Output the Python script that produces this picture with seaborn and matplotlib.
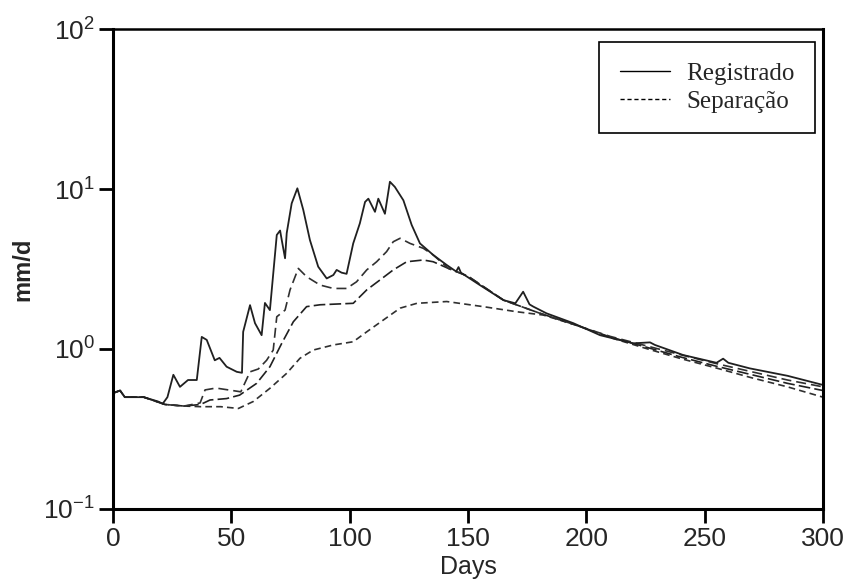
import matplotlib
matplotlib.use("Agg")
import matplotlib.pyplot as plt
import seaborn as sns
import pandas as pd
from matplotlib.ticker import FixedLocator, NullLocator
from matplotlib.lines import Line2D

# ---- data ----
reg_days = [0, 3, 5, 13, 19, 21, 23, 25.5, 28.3, 31.7, 35.4, 37.5, 39.6, 43, 45, 48, 52.3, 54.5,
            55, 57.9, 60, 62.8, 64.2, 66.3, 69.2, 70.6, 71.3, 72.7, 73.4, 75.5, 77.9, 80.4, 83.2,
            86.7, 90.3, 93.1, 94.5, 96.6, 98.7, 101.5, 104.3, 106.5, 107.9, 110.7, 112.1, 114.9,
            117, 119.1, 122.7, 126.2, 129.7, 135.3, 141, 145, 146, 147, 155, 165, 170, 173.3,
            176, 177.6, 183.2, 194.5, 205.8, 219.8, 226.9, 229, 240.9, 255, 257.8, 260, 269,
            285, 300]
reg_vals = [0.53, 0.55, 0.50, 0.50, 0.47, 0.455, 0.50, 0.69, 0.58, 0.64, 0.64, 1.19, 1.14, 0.85,
            0.88, 0.775, 0.72, 0.71, 1.28, 1.88, 1.45, 1.22, 1.94, 1.75, 5.16, 5.5, 4.8, 3.69,
            5.3, 8.13, 10.1, 7.4, 4.8, 3.27, 2.76, 2.9, 3.12, 3.0, 2.95, 4.57, 6.1, 8.3, 8.7,
            7.2, 8.7, 7.0, 11.1, 10.3, 8.5, 5.96, 4.57, 3.87, 3.35, 3.05, 3.25, 3.0, 2.51, 2.02,
            1.93, 2.28, 1.9, 1.84, 1.67, 1.45, 1.22, 1.085, 1.10, 1.06, 0.917, 0.82, 0.87, 0.82,
            0.757, 0.68, 0.596]

sep1_days = [0, 3, 5, 13, 22, 30, 36.8, 38.9, 43.5, 50.5, 54, 57.9, 61.4, 64.9, 67.7, 69.2, 72.7,
             74.8, 78.3, 81.8, 87.5, 93.1, 98.7, 102.9, 107.2, 111.4, 115.6, 118.4, 121.3, 125.5,
             131.1, 135.3, 141.7, 150, 165, 180, 195, 210, 225, 240, 255, 270, 285, 300]
sep1_vals = [0.53, 0.55, 0.50, 0.50, 0.45, 0.44, 0.46, 0.555, 0.57, 0.55, 0.54, 0.72, 0.75, 0.85,
             0.985, 1.59, 1.75, 2.34, 3.19, 2.83, 2.51, 2.39, 2.39, 2.63, 3.12, 3.51, 4.06, 4.68,
             4.92, 4.57, 4.26, 3.87, 3.19, 2.85, 2.02, 1.68, 1.42, 1.2, 1.05, 0.92, 0.81, 0.72,
             0.64, 0.58]

sep2_days = [0, 3, 5, 13, 22, 30, 37, 41, 48, 53.5, 60.7, 66.3, 71.3, 76.2, 81.8, 87.5, 101.5,
             107.2, 112.8, 118.4, 124.1, 131.1, 135.3, 141.7, 150, 165, 180, 195, 210, 225, 240,
             255, 270, 285, 300]
sep2_vals = [0.53, 0.55, 0.50, 0.50, 0.45, 0.44, 0.45, 0.48, 0.49, 0.515, 0.61, 0.775, 1.085,
             1.48, 1.84, 1.89, 1.93, 2.34, 2.7, 3.12, 3.51, 3.6, 3.51, 3.19, 2.85, 2.02, 1.68,
             1.42, 1.19, 1.03, 0.89, 0.78, 0.69, 0.61, 0.55]

sep3_days = [0, 3, 5, 13, 22, 30, 37, 45.5, 53, 59.3, 66.3, 73.4, 79, 84.6, 93.1, 101.5, 107.2,
             114.3, 121.3, 128.4, 141, 156.4, 170.5, 181.8, 195, 210, 225, 240, 255, 270, 285, 300]
sep3_vals = [0.53, 0.55, 0.50, 0.50, 0.45, 0.44, 0.436, 0.436, 0.425, 0.47, 0.568, 0.705, 0.875,
             0.985, 1.06, 1.11, 1.28, 1.52, 1.8, 1.93, 1.98, 1.84, 1.71, 1.63, 1.42, 1.18, 1.01,
             0.87, 0.76, 0.66, 0.58, 0.50]

x_ticks = [0, 50, 100, 150, 200, 250, 300]
y_ticks = [0.1, 1, 10, 100]
y_tick_labels = ["10$^{-1}$", "10$^{0}$", "10$^{1}$", "10$^{2}$"]
legend_labels = ["Registrado", "Separação"]

sns.set_style("ticks")
plt.rcParams["font.family"] = ["Liberation Sans", "DejaVu Sans"]
plt.rcParams["mathtext.default"] = "regular"

fig = plt.figure(figsize=(8.51, 5.80), dpi=100)
ax = fig.add_axes([113 / 851, 1 - 509 / 580, 710 / 851, 480 / 580])

df_reg = pd.DataFrame({"day": reg_days, "val": reg_vals})
df1 = pd.DataFrame({"day": sep1_days, "val": sep1_vals})
df2 = pd.DataFrame({"day": sep2_days, "val": sep2_vals})
df3 = pd.DataFrame({"day": sep3_days, "val": sep3_vals})

sns.lineplot(data=df3, x="day", y="val", ax=ax, color="#303030", lw=1.2,
             linestyle=(0, (4, 2.5)), estimator=None, sort=False)
sns.lineplot(data=df2, x="day", y="val", ax=ax, color="#202020", lw=1.2,
             linestyle=(0, (7, 2.5)), estimator=None, sort=False)
sns.lineplot(data=df1, x="day", y="val", ax=ax, color="#303030", lw=1.2,
             linestyle=(0, (6, 3)), estimator=None, sort=False)
sns.lineplot(data=df_reg, x="day", y="val", ax=ax, color="#202020", lw=1.3,
             linestyle="-", estimator=None, sort=False)

ax.set_yscale("log")
ax.set_xlim(0, 300)
ax.set_ylim(0.1, 100)
ax.xaxis.set_major_locator(FixedLocator(x_ticks))
ax.yaxis.set_major_locator(FixedLocator(y_ticks))
ax.yaxis.set_minor_locator(NullLocator())
ax.set_yticklabels(y_tick_labels)
ax.tick_params(axis="both", which="major", direction="out", length=10, width=2,
               labelsize=19, color="black", pad=3)

for side in ["left", "right", "bottom"]:
    ax.spines[side].set_linewidth(2.2)
    ax.spines[side].set_color("black")
ax.spines["top"].set_linewidth(1.8)
ax.spines["top"].set_color("black")

ax.set_xlabel("Days", fontsize=18, labelpad=3)
ax.set_ylabel("mm/d", fontsize=17, fontweight="bold", labelpad=6)

handles = [Line2D([], [], color="black", lw=1.0, linestyle="-"),
           Line2D([], [], color="black", lw=1.0, linestyle=(0, (3, 2)))]
leg = ax.legend(handles, legend_labels, loc="upper right", bbox_to_anchor=(0.9887, 0.973),
                frameon=True, fancybox=False, framealpha=1, edgecolor="black",
                prop={"family": ["Liberation Serif", "DejaVu Serif"], "size": 18},
                handlelength=2.0, handletextpad=0.65, borderpad=0.82, labelspacing=0.22,
                borderaxespad=0)
leg.get_frame().set_linewidth(1.2)

fig.savefig("out.png", dpi=100)
